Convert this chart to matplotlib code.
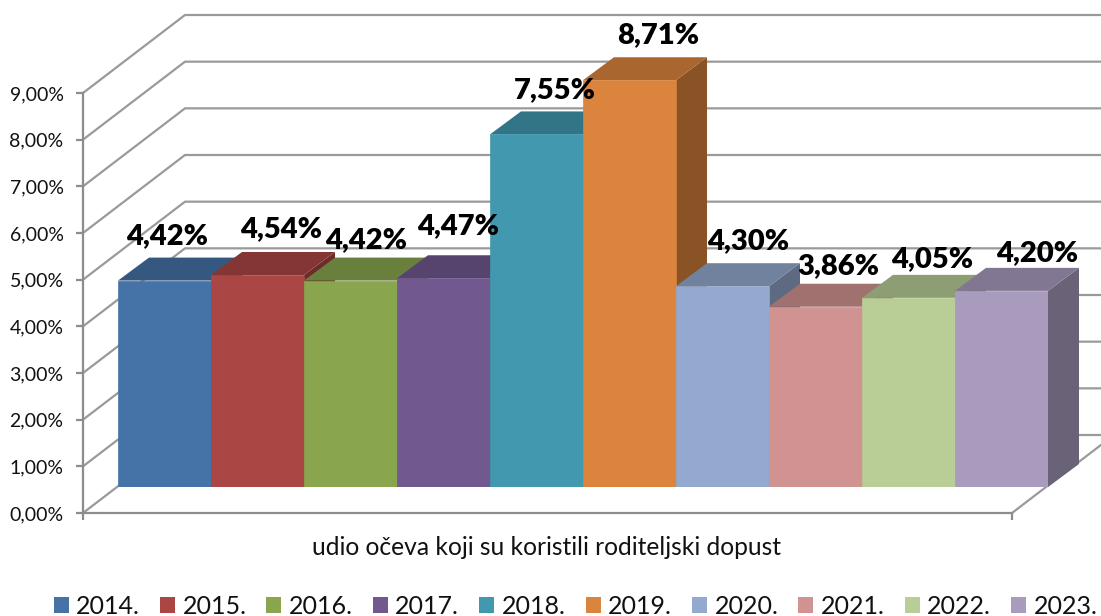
import matplotlib
matplotlib.use("Agg")
import matplotlib.pyplot as plt
from matplotlib.patches import Polygon, Patch
from matplotlib.colors import to_rgb

years = ["2014.", "2015.", "2016.", "2017.", "2018.", "2019.", "2020.", "2021.", "2022.", "2023."]
values = [4.42, 4.54, 4.42, 4.47, 7.55, 8.71, 4.30, 3.86, 4.05, 4.20]
colors = ["#4572A7", "#AA4643", "#89A54E", "#71588F", "#4198AF",
          "#DB843D", "#93A9CF", "#D19392", "#B9CD96", "#A99BBD"]
y_ticks = [0, 1, 2, 3, 4, 5, 6, 7, 8, 9]
x_title = "udio očeva koji su koristili roditeljski dopust"
# label offsets from the top centre of each bar, in pixels
label_offsets = [(2.5, 44.5), (23.5, 45.5), (15.5, 40.5), (14.5, 52.5), (18.5, 44.5),
                 (28.5, 45), (25.5, 45.5), (22.5, 40.5), (23.5, 38.5), (35.5, 37.5)]

W, H = 1101, 616
plt.rcParams["font.family"] = ["Lato", "DejaVu Sans"]
fig = plt.figure(figsize=(W / 100, H / 100), dpi=100)

GREY = "#9a9a9a"
AX_GREY = "#8c8c8c"


def rect(left, top, right, bottom):
    return [left / W, 1 - bottom / H, (right - left) / W, (bottom - top) / H]


# Front plane: real value axis
ax = fig.add_axes(rect(83, 93, 1012, 513))
ax.set_xlim(0, 929)   # pixels along the floor
ax.set_ylim(0, 9)
ax.patch.set_visible(False)
for s in ("top", "right"):
    ax.spines[s].set_visible(False)
for s in ("left", "bottom"):
    ax.spines[s].set_color(AX_GREY)
    ax.spines[s].set_linewidth(1.6)
ax.set_yticks(y_ticks)
ax.set_yticklabels([f"{v:.2f}%".replace(".", ",") for v in y_ticks])
ax.set_xticks([0, 929])
ax.set_xticklabels(["", ""])
ax.tick_params(axis="both", color=AX_GREY, width=1.6, length=5, labelsize=14, pad=9)
ax.tick_params(axis="y", labelcolor="#111111")
ax.set_xlabel(x_title, fontsize=17.7, color="#111111", labelpad=2.4)
ax.xaxis.label.set_x((547 - 83) / 929)

# Walls and gridlines, in value units with a depth offset
px_per_val = (513 - 93) / 9
depth_x, depth_val = 102, 78 / px_per_val
for v in y_ticks:
    ax.plot([0, depth_x, 1300], [v, v + depth_val, v + depth_val],
            color=GREY, lw=1.6, clip_on=False, zorder=1, solid_capstyle="butt")
ax.plot([929, 929 + depth_x], [0, depth_val], color=GREY, lw=1.6, clip_on=False, zorder=1)

# Bar plane
bx = fig.add_axes(rect(118, 93 - 26, 1048, 487))
bx.set_xlim(-0.5, 9.5)
bx.set_ylim(0, (487 - 67) / 46.7)
bx.axis("off")
bx.patch.set_visible(False)
bar_dx = 31 / 93
bar_dy = 23 / 46.7


def shade(color, f):
    return tuple(c * f for c in to_rgb(color))


for i, (v, c) in enumerate(zip(values, colors)):
    l, r = i - 0.5, i + 0.5
    bx.add_patch(Polygon([(r, 0), (r + bar_dx, bar_dy), (r + bar_dx, v + bar_dy), (r, v)],
                         facecolor=shade(c, 0.63), edgecolor="none", clip_on=False, zorder=2 + i))
    bx.add_patch(Polygon([(l, v), (l + bar_dx, v + bar_dy), (r + bar_dx, v + bar_dy), (r, v)],
                         facecolor=shade(c, 0.77), edgecolor="none", clip_on=False, zorder=2 + i))
    bx.bar(i, v, width=1.0, color=c, edgecolor=c, linewidth=0.5, zorder=2 + i)

for i, (v, off) in enumerate(zip(values, label_offsets)):
    bx.annotate(f"{v:.2f}%".replace(".", ","), xy=(i, v), xytext=off,
                textcoords="offset pixels", ha="center", va="center",
                fontsize=21, fontweight="heavy", color="#000000", zorder=30,
                annotation_clip=False)

handles = [Patch(facecolor=c, edgecolor="none", label=y) for y, c in zip(years, colors)]
fig.legend(handles=handles, loc="center", bbox_to_anchor=(575.5 / W, 1 - 606 / H), ncol=10,
           frameon=False, fontsize=18, handlelength=0.6, handleheight=0.6,
           handletextpad=0.3, columnspacing=0.8, borderpad=0, labelcolor="#111111")

fig.savefig("out.png", dpi=100)
